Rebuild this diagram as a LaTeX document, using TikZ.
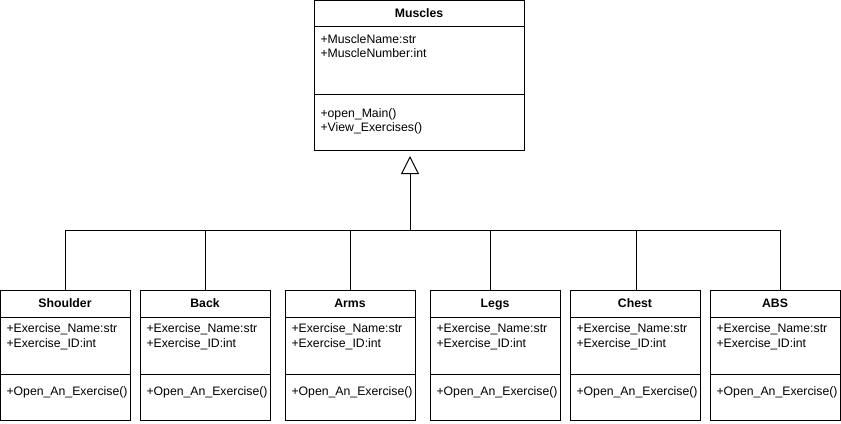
\documentclass[tikz,border=0pt]{standalone}
\usepackage{fontspec}
\setmainfont{Liberation Sans}
\usepackage{tikz}
\usetikzlibrary{arrows.meta}

\tikzset{
	classbox/.style={draw, rectangle, inner sep=0pt, line width=0.75pt, anchor=north west},
	classname/.style={font=\fontsize{9.2}{11}\selectfont\bfseries, inner sep=0pt, text height=6.6pt, text depth=2pt},
	member/.style={font=\fontsize{9.2}{11}\selectfont, anchor=west, inner sep=0pt, text height=6.6pt, text depth=2pt},
	inherit/.style={line width=0.75pt, -{Triangle[open, length=13.5pt, width=13.5pt]}}
}

\begin{document}
\begin{tikzpicture}[x=0.75pt, y=-0.75pt, line width=0.75pt]
	\useasboundingbox (0,0) rectangle (841,424);

	% parent class
	\node[classbox, minimum width=157.5pt, minimum height=112.5pt] (muscles) at (314,0) {};
	\draw (314,27) -- (524,27);
	\draw (314,95) -- (524,95);
	\node[classname] (musclesT) at (419,14) {Muscles};
	\node[member] (musclesA1) at (320,40) {+MuscleName:str};
	\node[member] (musclesA2) at (320,54) {+MuscleNumber:int};
	\node[member] (musclesM1) at (320,114) {+open\_Main()};
	\node[member] (musclesM2) at (320,128) {+View\_Exercises()};

	% child classes
	\foreach \n/\x/\dx in {Shoulder/0/65, Back/140/205, Arms/285/350, Legs/430/490, Chest/570/636, ABS/710/780}{
		\node[classbox, minimum width=97.5pt, minimum height=97.5pt] (\n) at (\x,290) {};
		\draw (\x,317) -- (\x+130,317);
		\draw (\x,374) -- (\x+130,374);
		\node[classname] (\n T) at (\x+65,304) {\n};
		\node[member] (\n A1) at (\x+6,329) {+Exercise\_Name:str};
		\node[member] (\n A2) at (\x+6,344) {+Exercise\_ID:int};
		\node[member] (\n M1) at (\x+6,392) {+Open\_An\_Exercise()};
		\coordinate (bus\n) at (\dx,230);
		\draw (bus\n) -- (bus\n |- \n.north);
	}

	% generalisation
	\draw (busShoulder) -- (busABS);
	\coordinate (hub) at (410,230);
	\draw[inherit] (hub) -- ([yshift=-3.75pt]hub |- muscles.south);
\end{tikzpicture}
\end{document}
